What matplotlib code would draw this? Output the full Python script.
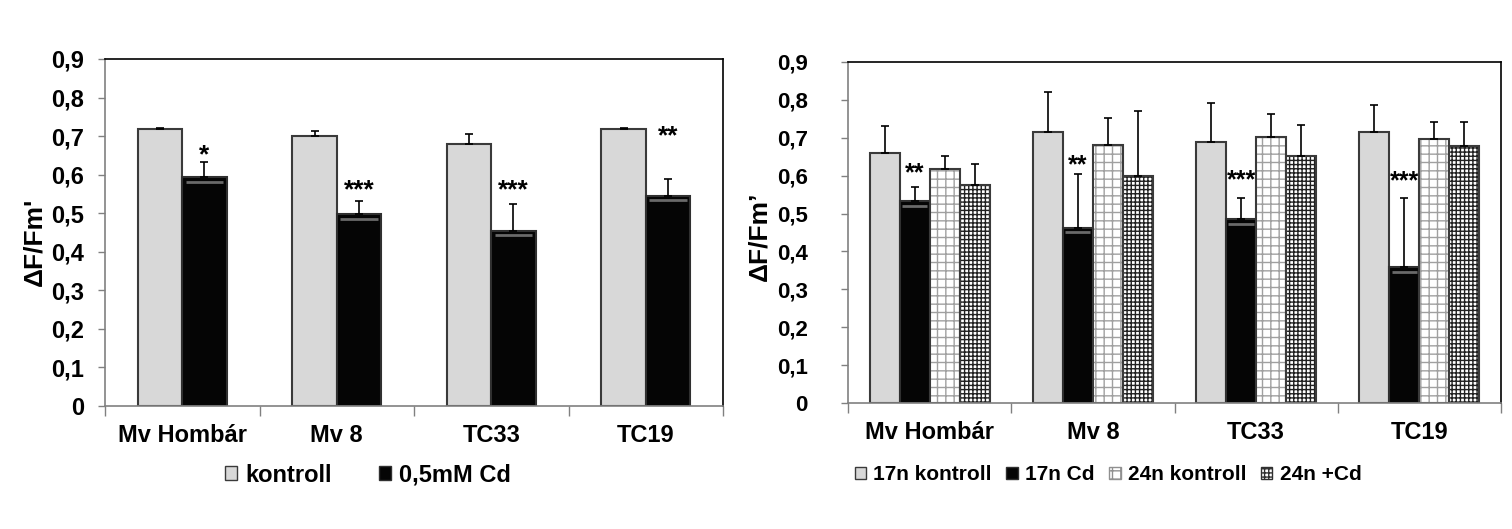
import matplotlib.pyplot as plt
import numpy as np
from matplotlib.patches import Patch

plt.rcParams['font.family'] = ['Liberation Sans', 'DejaVu Sans']
plt.rcParams['font.weight'] = 'bold'
plt.rcParams['hatch.linewidth'] = 1.0

groups = ['Mv Hombár', 'Mv 8', 'TC33', 'TC19']
yticks = [0, 0.1, 0.2, 0.3, 0.4, 0.5, 0.6, 0.7, 0.8, 0.9]
ytick_labels = ['0', '0,1', '0,2', '0,3', '0,4', '0,5', '0,6', '0,7', '0,8', '0,9']

# left panel
kontroll = [0.718, 0.700, 0.680, 0.718]
kontroll_err = [0.003, 0.013, 0.025, 0.002]
cd05 = [0.593, 0.498, 0.455, 0.545]
cd05_err = [0.040, 0.033, 0.070, 0.045]
stars_left = ['*', '***', '***', '**']
stars_left_y = [0.672, 0.582, 0.580, 0.722]

# right panel
k17 = [0.659, 0.714, 0.690, 0.714]
k17_err = [0.071, 0.106, 0.101, 0.073]
cd17 = [0.533, 0.462, 0.485, 0.358]
cd17_err = [0.038, 0.143, 0.057, 0.184]
k24 = [0.617, 0.680, 0.701, 0.698]
k24_err = [0.035, 0.072, 0.061, 0.044]
cd24 = [0.575, 0.598, 0.651, 0.677]
cd24_err = [0.056, 0.172, 0.082, 0.065]
stars_right = ['**', '**', '***', '***']
stars_right_y = [0.625, 0.648, 0.607, 0.605]

W, H = 1512, 529
fig = plt.figure(figsize=(W / 100, H / 100), dpi=100)
ax1 = fig.add_axes([105 / W, 1 - 406 / H, (723 - 105) / W, (406 - 59) / H])
ax2 = fig.add_axes([848 / W, 1 - 403 / H, (1501 - 848) / W, (403 - 62) / H])

x = np.arange(len(groups)) + 0.5


def style(ax, ylab, ypad, yfs, label_xy):
    ax.set_xlim(0, 4)
    ax.set_ylim(0, 0.9)
    ax.set_yticks(yticks)
    ax.set_yticklabels(ytick_labels, fontsize=yfs, fontweight='bold')
    ax.set_xticks(x)
    ax.set_xticklabels(groups, fontsize=17, fontweight='bold')
    ax.set_xticks([0, 1, 2, 3, 4], minor=True)
    ax.tick_params(axis='x', which='major', length=0, pad=13)
    ax.tick_params(axis='x', which='minor', length=7, color='#808080', width=1)
    ax.tick_params(axis='y', length=5, color='#808080', width=1, pad=ypad)
    for s in ['left', 'bottom']:
        ax.spines[s].set_color('#808080')
        ax.spines[s].set_linewidth(1.2)
    for s in ['top', 'right']:
        ax.spines[s].set_color('black')
        ax.spines[s].set_linewidth(1.2)
    ax.set_ylabel(ylab, fontsize=19, fontweight='bold')
    ax.yaxis.set_label_coords(*label_xy)


def stars(ax, xs, ys, labels, fs):
    for xi, yi, s in zip(xs, ys, labels):
        ax.annotate(s, (xi, yi), xytext=(0, -0.58 * fs), textcoords='offset points',
                    ha='center', va='baseline', fontsize=fs, fontweight='bold')


def bevel(ax, xs, vals, w):
    # thin grey highlight just under the top of the dark bars
    ax.hlines(np.array(vals) - 0.012, xs - w / 2 + w * 0.08, xs + w / 2 - w * 0.08,
              color='#6a6a6a', linewidth=2, zorder=2.5)


# ---- left chart
w = 0.287
ax1.bar(x - w / 2, kontroll, w, color='#d8d8d8', edgecolor='#3a3a3a', linewidth=1.5, zorder=2)
ax1.bar(x + w / 2, cd05, w, color='#050505', edgecolor='#303030', linewidth=1.5, zorder=2)
bevel(ax1, x + w / 2, cd05, w)
ax1.errorbar(x - w / 2, kontroll, yerr=[np.zeros(4), kontroll_err], fmt='none',
             ecolor='black', elinewidth=1.2, capsize=3, capthick=1.2, zorder=3)
ax1.errorbar(x + w / 2, cd05, yerr=[np.zeros(4), cd05_err], fmt='none',
             ecolor='black', elinewidth=1.2, capsize=3, capthick=1.2, zorder=3)
stars(ax1, x + w / 2, stars_left_y, stars_left, 19)
style(ax1, "\u0394F/Fm'", 10, 17, (-0.095, 0.473))

h1 = [Patch(facecolor='#d8d8d8', edgecolor='#3a3a3a', linewidth=1),
      Patch(facecolor='#050505', edgecolor='#303030', linewidth=1)]
fig.legend(h1, ['kontroll', '0,5mM Cd'], loc='center', bbox_to_anchor=(368 / W, 1 - 475 / H),
           ncol=2, frameon=False, prop={'size': 17, 'weight': 'bold'},
           handlelength=0.5, handleheight=0.5, handletextpad=0.35, columnspacing=2.0)

# ---- right chart
w2 = 0.184
off = np.array([-1.5, -0.5, 0.5, 1.5]) * w2
ax2.bar(x + off[0], k17, w2, color='#d8d8d8', edgecolor='#3a3a3a', linewidth=1.5, zorder=2)
ax2.bar(x + off[1], cd17, w2, color='#050505', edgecolor='#303030', linewidth=1.5, zorder=2)
bevel(ax2, x + off[1], cd17, w2)
ax2.bar(x + off[2], k24, w2, color='white', edgecolor='#a0a0a0', hatch='++', linewidth=0, zorder=2)
ax2.bar(x + off[2], k24, w2, color='none', edgecolor='#3a3a3a', linewidth=1.5, zorder=2)
ax2.bar(x + off[3], cd24, w2, color='white', edgecolor='#202020', hatch='++++', linewidth=0, zorder=2)
ax2.bar(x + off[3], cd24, w2, color='none', edgecolor='#3a3a3a', linewidth=1.5, zorder=2)
for vals, errs, o in [(k17, k17_err, off[0]), (cd17, cd17_err, off[1]),
                      (k24, k24_err, off[2]), (cd24, cd24_err, off[3])]:
    ax2.errorbar(x + o, vals, yerr=[np.zeros(4), errs], fmt='none',
                 ecolor='black', elinewidth=1.2, capsize=3, capthick=1.2, zorder=3)
stars(ax2, x + off[1], stars_right_y, stars_right, 18)
style(ax2, "\u0394F/Fm\u2019", 24, 16, (-0.118, 0.49))

h2 = [Patch(facecolor='#d8d8d8', edgecolor='#3a3a3a', linewidth=1),
      Patch(facecolor='#050505', edgecolor='#303030', linewidth=1),
      Patch(facecolor='white', edgecolor='#909090', hatch='++', linewidth=1),
      Patch(facecolor='white', edgecolor='#303030', hatch='++++', linewidth=1)]
fig.legend(h2, ['17n kontroll', '17n Cd', '24n kontroll', '24n +Cd'], loc='center',
           bbox_to_anchor=(1108 / W, 1 - 475 / H), ncol=4, frameon=False,
           prop={'size': 15, 'weight': 'bold'},
           handlelength=0.55, handleheight=0.55, handletextpad=0.35, columnspacing=0.7)

fig.savefig('out.png', dpi=100)
